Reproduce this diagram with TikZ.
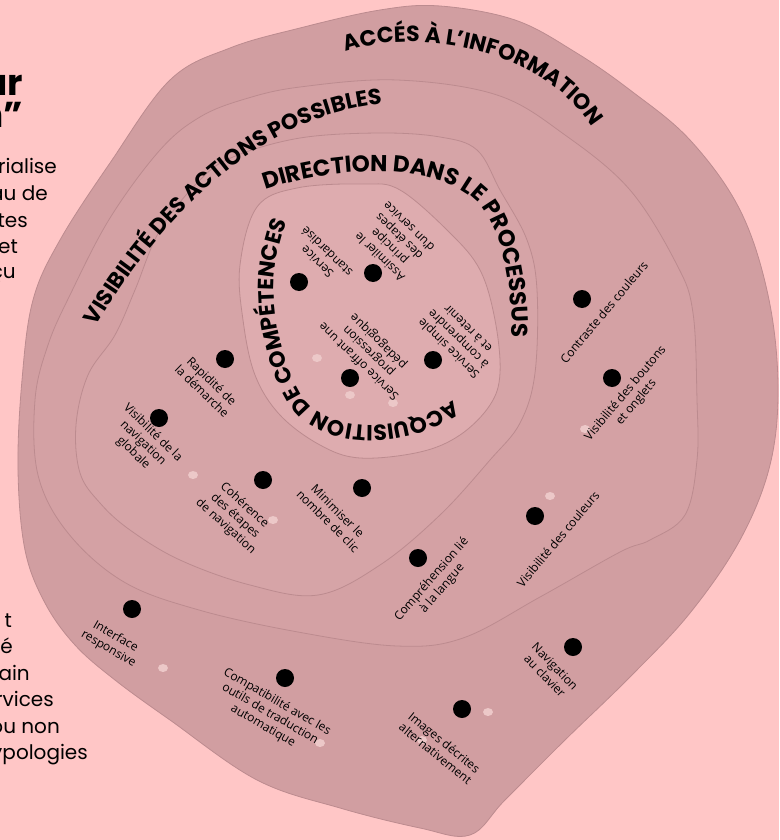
\documentclass[tikz,border=0pt]{standalone}
\usepackage{fontspec}
\setmainfont{Open Sans}
\newfontfamily\headfont{Poppins}
\usepackage{tikz}
\usetikzlibrary{decorations.text}

\definecolor{bgpink}{RGB}{255,198,198}
\definecolor{layerA}{RGB}{209,158,161}
\definecolor{layerB}{RGB}{212,161,164}
\definecolor{layerC}{RGB}{214,164,167}
\definecolor{layerD}{RGB}{222,172,175}
\definecolor{rim}{RGB}{188,139,143}
\definecolor{tackpink}{RGB}{236,200,200}

\begin{document}
\begin{tikzpicture}[x=1pt, y=-1pt,
    dot/.style={circle, fill=black, inner sep=0pt, minimum size=18pt},
    lbl/.style={font=\fontsize{12}{14}\selectfont, align=center, inner sep=0pt},
    layer/.style={draw=rim, line width=0.8pt},
    ring/.style 2 args={decorate, decoration={text along path, text align=center,
        text={|\headfont\bfseries\fontsize{#1}{#1}\selectfont|#2}}},
    side/.style={font=\headfont\fontsize{20}{24}\selectfont, anchor=base east, inner sep=0pt},
    head/.style={font=\headfont\bfseries\fontsize{36}{36}\selectfont, anchor=base east, inner sep=0pt}]

  \path[use as bounding box, fill=bgpink] (0,0) rectangle (779,840);

  % text column behind the blob
  \node[head] (h1) at (23,96) {ur};
  \node[head] (h2) at (23,128) {n”};
  \node[side] (s1) at (57,173) {rialise};
  \node[side] (s2) at (48,200) {au de};
  \node[side] (s3) at (28,227) {tes};
  \node[side] (s4) at (18,253) {et};
  \node[side] (s5) at (16,278) {çu};
  \node[side] (s6) at (12,627) {t};
  \node[side] (s7) at (13,653) {é};
  \node[side] (s8) at (30,680) {ain};
  \node[side] (s9) at (54,706) {rvices};
  \node[side] (s10) at (60,733) {ou non};
  \node[side] (s11) at (88,759) {ypologies};

  % layers
  \filldraw[layer, fill=layerA] plot[smooth cycle, tension=0.6] coordinates {
    (33,300) (60,240) (110,163) (170,80) (230,48) (300,28) (380,10) (440,6)
    (515,20) (575,52) (630,90) (690,140) (740,210) (768,295) (778,385)
    (770,465) (740,540) (690,613) (630,677) (565,740) (505,800) (470,835)
    (420,828) (340,808) (257,780) (170,720) (115,680) (75,645) (45,603)
    (25,550) (18,470) (22,380)};
  \filldraw[layer, fill=layerB] plot[smooth cycle, tension=0.6] coordinates {
    (35,400) (48,345) (70,295) (110,218) (160,150) (200,117) (245,99)
    (300,87) (397,80) (497,95) (565,135) (630,190) (677,265) (693,313)
    (697,400) (697,460) (685,515) (650,540) (620,552) (540,597) (463,638)
    (397,646) (298,632) (199,610) (124,582) (68,533) (38,475)};
  \filldraw[layer, fill=layerC] plot[smooth cycle, tension=0.6] coordinates {
    (160,230) (135,290) (115,335) (88,375) (76,425) (80,473) (100,503)
    (130,530) (180,560) (250,585) (318,595) (380,565) (440,515) (490,460)
    (520,423) (535,373) (537,290) (527,240) (500,190) (477,150) (440,137)
    (380,133) (300,138) (233,157) (200,180)};
  \filldraw[layer, fill=layerD] plot[smooth cycle, tension=0.6] coordinates {
    (257,207) (297,188) (363,184) (400,190) (450,233) (480,270) (495,320)
    (500,373) (490,405) (460,435) (420,452) (360,458) (320,445) (280,415)
    (255,375) (243,320) (240,265)};

  % titles
  \path[ring={22}{ACCÉS À L’INFORMATION}]
    (338,55) .. controls (395,28) and (542,38) .. (596,134);
  \path[ring={22}{VISIBILITÉ DES ACTIONS POSSIBLES}]
    (88,340) .. controls (142,244) and (250,108) .. (398,103);
  \path[ring={23}{DIRECTION DANS LE PROCESSUS}]
    (257,193) .. controls (330,165) and (440,160) .. (480,205)
    .. controls (505,235) and (513,290) .. (512,346);
  \path[ring={22}{ACQUISITION DE COMPÉTENCES}]
    (466,391) .. controls (420,430) and (340,440) .. (305,400)
    .. controls (290,380) and (268,320) .. (275,270)
    .. controls (278,245) and (285,222) .. (294,208);

  % pins
  \foreach \px/\py in {317/358, 350/395, 393/403, 193/475, 273/520, 585/429,
      550/496, 163/668, 320/743, 488/712, 422/740}
    \fill[tackpink] (\px,\py) ellipse (5 and 4);

  % acquisition de competences
  \node[dot] (d1) at (299,282) {};
  \node[lbl, rotate=136] (l1) at (322,257) {Service\\standardisé};
  \node[dot] (d2) at (373,273) {};
  \node[lbl, rotate=136] (l2) at (394,242) {Assimiler le\\principe\\des étapes\\d’un service};
  \node[dot] (d3) at (350,378) {};
  \node[lbl, rotate=136] (l3) at (369,351) {Service offrant une\\progression\\pédagogique};
  \node[dot] (d4) at (433,360) {};
  \node[lbl, rotate=136] (l4) at (458,339) {Service simple\\à comprendre\\et à retenir};

  % direction dans le processus
  \node[dot] (d5) at (225,359) {};
  \node[lbl, rotate=-44] (l5) at (207,386) {Rapidité de\\la démarche};
  \node[dot] (d6) at (159,418) {};
  \node[lbl, rotate=-44] (l6) at (143,443) {Visibilité de la\\navigation\\globale};
  \node[dot] (d7) at (263,480) {};
  \node[lbl, rotate=-42] (l7) at (235,516) {Cohérence\\des étapes\\de navigation};
  \node[dot] (d8) at (362,488) {};
  \node[lbl, rotate=-45] (l8) at (333,516) {Minimiser le\\nombre de clic};

  % visibilite des actions possibles
  \node[dot] (d9) at (582,299) {};
  \node[lbl, rotate=50] (l9) at (604,312) {Contraste des couleurs};
  \node[dot] (d10) at (612,378) {};
  \node[lbl, rotate=50] (l10) at (631,398) {Visibilité des boutons\\et onglets};
  \node[dot] (d11) at (418,558) {};
  \node[lbl, rotate=49] (l11) at (437,584) {Compréhension lié\\à la langue};
  \node[dot] (d12) at (535,516) {};
  \node[lbl, rotate=50] (l12) at (558,539) {Visibilité des couleurs};

  % acces a l'information
  \node[dot] (d13) at (132,609) {};
  \node[lbl, rotate=-30] (l13) at (112,643) {Interface\\responsive};
  \node[dot] (d14) at (285,678) {};
  \node[lbl, rotate=-30] (l14) at (270,714) {Compatibilité avec les\\outils de traduction\\automatique};
  \node[dot] (d15) at (573,647) {};
  \node[lbl, rotate=-46] (l15) at (550,671) {Navigation\\au clavier};
  \node[dot] (d16) at (462,709) {};
  \node[lbl, rotate=-39] (l16) at (440,748) {Images décrites\\alternativement};
\end{tikzpicture}
\end{document}
